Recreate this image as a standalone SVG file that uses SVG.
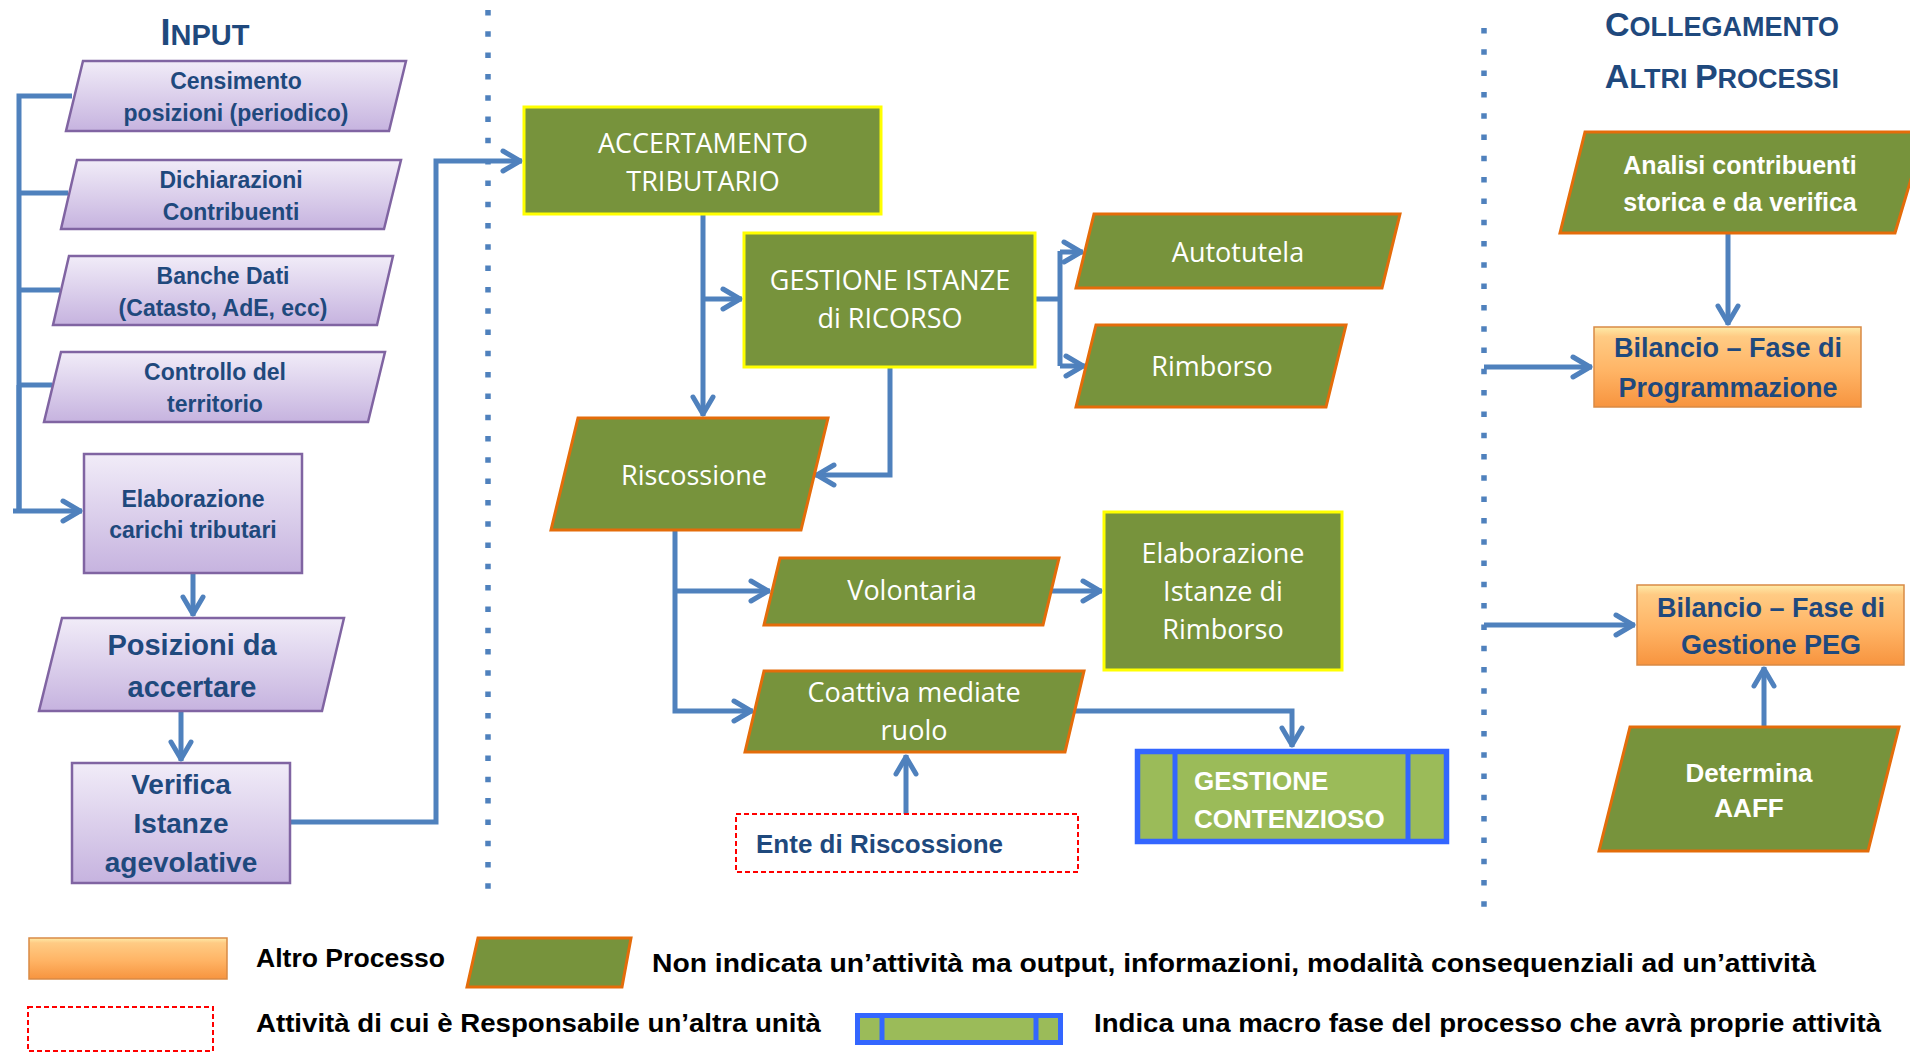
<svg xmlns="http://www.w3.org/2000/svg" width="1910" height="1052" viewBox="0 0 1910 1052">
<defs>
<linearGradient id="gPurple" x1="0" y1="0" x2="0" y2="1">
<stop offset="0" stop-color="#F1ECF8"/><stop offset="1" stop-color="#C6B3DF"/>
</linearGradient>
<linearGradient id="gOrange" x1="0" y1="0" x2="0" y2="1">
<stop offset="0" stop-color="#FEEBA8"/><stop offset="0.12" stop-color="#FFCB84"/><stop offset="0.55" stop-color="#FFB465"/><stop offset="1" stop-color="#F7943F"/>
</linearGradient>
<marker id="arr" markerUnits="userSpaceOnUse" viewBox="-26 -14 30 28" refX="0" refY="0" markerWidth="30" markerHeight="28" orient="auto">
<path d="M-19,-10 L-2,0 L-19,10" fill="none" stroke="#4F81BD" stroke-width="5" stroke-linecap="round" stroke-linejoin="round"/>
</marker>
</defs>
<style>
.conn{fill:none;stroke:#4F81BD;stroke-width:5;stroke-linejoin:miter}
.dots{fill:none;stroke:#4F81BD;stroke-width:5.5;stroke-dasharray:5.5 15.8}
.purp{fill:url(#gPurple);stroke:#8064A2;stroke-width:2.5}
.grnP{fill:#77933C;stroke:#E46C0A;stroke-width:3}
.grnR{fill:#77933C;stroke:#FFFF00;stroke-width:3}
.orng{fill:url(#gOrange);stroke:#D98A45;stroke-width:1.5}
.tb{font-family:"Liberation Sans",Arial,sans-serif;font-weight:bold;fill:#1F497D;text-anchor:middle}
.tw{font-family:"Open Sans","Liberation Sans",sans-serif;fill:#FFFFFF;text-anchor:middle;font-size:27px}
.twb{font-family:"Liberation Sans",Arial,sans-serif;font-weight:bold;fill:#FFFFFF;text-anchor:middle}
.title{font-family:"Liberation Sans",Arial,sans-serif;font-weight:bold;fill:#1F497D;text-anchor:middle}
.leg{font-family:"Liberation Sans",Arial,sans-serif;font-weight:bold;fill:#000000;font-size:25px}
</style>
<rect width="1910" height="1052" fill="#FFFFFF"/>

<!-- titles -->
<text class="title" x="205" y="45"><tspan font-size="36">I</tspan><tspan font-size="29">NPUT</tspan></text>
<text class="title" x="1722" y="36"><tspan font-size="34">C</tspan><tspan font-size="27">OLLEGAMENTO</tspan></text>
<text class="title" x="1722" y="88"><tspan font-size="34">A</tspan><tspan font-size="27">LTRI </tspan><tspan font-size="34">P</tspan><tspan font-size="27">ROCESSI</tspan></text>

<!-- separators -->
<line class="dots" x1="488" y1="10" x2="488" y2="892"/>
<line class="dots" x1="1484" y1="28" x2="1484" y2="908"/>

<!-- connectors -->
<g id="connectors">
<path class="conn" d="M72,96 H19 V512"/>
<path class="conn" d="M68,193 H19"/>
<path class="conn" d="M60,290 H19"/>
<path class="conn" d="M52,385 H19"/>
<path class="conn" d="M19,385 V511" stroke-width="13"/>
<path class="conn" d="M13,511 H82" stroke-width="11" marker-end="url(#arr)"/>
<path class="conn" d="M193,573 V616" marker-end="url(#arr)"/>
<path class="conn" d="M181,711 V761" marker-end="url(#arr)"/>
<path class="conn" d="M290,822 H436 V161 H522" marker-end="url(#arr)"/>
<path class="conn" d="M703,214 V416" marker-end="url(#arr)"/>
<path class="conn" d="M703,299 H742" marker-end="url(#arr)"/>
<path class="conn" d="M1035,299 H1060"/>
<path class="conn" d="M1060,251 V366"/>
<path class="conn" d="M1060,252 H1083" marker-end="url(#arr)"/>
<path class="conn" d="M1060,366 H1085" marker-end="url(#arr)"/>
<path class="conn" d="M890,367 V475 H815" marker-end="url(#arr)"/>
<path class="conn" d="M675,530 V711 H753" marker-end="url(#arr)"/>
<path class="conn" d="M675,591 H770" marker-end="url(#arr)"/>
<path class="conn" d="M1051,591 H1102" marker-end="url(#arr)"/>
<path class="conn" d="M1073,711 H1292 V747" marker-end="url(#arr)"/>
<path class="conn" d="M906,814 V755" marker-end="url(#arr)"/>
<path class="conn" d="M1728,233 V325" marker-end="url(#arr)"/>
<path class="conn" d="M1484,367 H1592" marker-end="url(#arr)"/>
<path class="conn" d="M1484,625 H1635" marker-end="url(#arr)"/>
<path class="conn" d="M1764,727 V667" marker-end="url(#arr)"/>
</g>

<!-- input nodes -->
<g id="censimento">
<polygon class="purp" points="83,61 406,61 389,131 66,131"/>
<text class="tb" font-size="23" x="236" y="89">Censimento</text>
<text class="tb" font-size="23" x="236" y="121">posizioni (periodico)</text>
</g>
<g id="dichiarazioni">
<polygon class="purp" points="77,160 401,160 384,229 61,229"/>
<text class="tb" font-size="23" x="231" y="188">Dichiarazioni</text>
<text class="tb" font-size="23" x="231" y="220">Contribuenti</text>
</g>
<g id="banche">
<polygon class="purp" points="69,256 393,256 377,325 53,325"/>
<text class="tb" font-size="23" x="223" y="284">Banche Dati</text>
<text class="tb" font-size="23" x="223" y="316">(Catasto, AdE, ecc)</text>
</g>
<g id="controllo">
<polygon class="purp" points="61,352 385,352 368,422 44,422"/>
<text class="tb" font-size="23" x="215" y="380">Controllo del</text>
<text class="tb" font-size="23" x="215" y="412">territorio</text>
</g>
<g id="elaborazione-carichi">
<rect class="purp" x="84" y="454" width="218" height="119"/>
<text class="tb" font-size="23" x="193" y="507">Elaborazione</text>
<text class="tb" font-size="23" x="193" y="538">carichi tributari</text>
</g>
<g id="posizioni">
<polygon class="purp" points="62,618 344,618 322,711 39,711"/>
<text class="tb" font-size="29" x="192" y="655">Posizioni da</text>
<text class="tb" font-size="29" x="192" y="697">accertare</text>
</g>
<g id="verifica">
<rect class="purp" x="72" y="763" width="218" height="120"/>
<text class="tb" font-size="28" x="181" y="794">Verifica</text>
<text class="tb" font-size="28" x="181" y="833">Istanze</text>
<text class="tb" font-size="28" x="181" y="872">agevolative</text>
</g>

<!-- central nodes -->
<g id="accertamento">
<rect class="grnR" x="524" y="107" width="357" height="107"/>
<text class="tw" x="703" y="153">ACCERTAMENTO</text>
<text class="tw" x="703" y="191">TRIBUTARIO</text>
</g>
<g id="gestione-istanze">
<rect class="grnR" x="744" y="233" width="291" height="134"/>
<text class="tw" x="890" y="290">GESTIONE ISTANZE</text>
<text class="tw" x="890" y="328">di RICORSO</text>
</g>
<g id="autotutela">
<polygon class="grnP" points="1094,214 1400,214 1382,288 1076,288"/>
<text class="tw" x="1238" y="262">Autotutela</text>
</g>
<g id="rimborso">
<polygon class="grnP" points="1096,325 1346,325 1326,407 1076,407"/>
<text class="tw" x="1212" y="376">Rimborso</text>
</g>
<g id="riscossione">
<polygon class="grnP" points="578,418 828,418 801,530 551,530"/>
<text class="tw" x="694" y="485">Riscossione</text>
</g>
<g id="volontaria">
<polygon class="grnP" points="780,558 1059,558 1043,625 764,625"/>
<text class="tw" x="912" y="600">Volontaria</text>
</g>
<g id="elaborazione-istanze">
<rect class="grnR" x="1104" y="512" width="238" height="158"/>
<text class="tw" x="1223" y="563">Elaborazione</text>
<text class="tw" x="1223" y="601">Istanze di</text>
<text class="tw" x="1223" y="639">Rimborso</text>
</g>
<g id="coattiva">
<polygon class="grnP" points="764,671 1084,671 1065,752 745,752"/>
<text class="tw" x="914" y="702">Coattiva mediate</text>
<text class="tw" x="914" y="740">ruolo</text>
</g>
<g id="ente">
<rect x="736" y="814" width="342" height="58" fill="#FFFFFF" stroke="#FF0000" stroke-width="2" stroke-dasharray="5 3"/>
<text class="tb" font-size="26" x="756" y="853" text-anchor="start" style="text-anchor:start">Ente di Riscossione</text>
</g>
<g id="contenzioso">
<rect x="1137.5" y="751.5" width="309" height="90" fill="#9BBB59" stroke="#3366FF" stroke-width="5.5"/>
<line x1="1175" y1="751" x2="1175" y2="842" stroke="#3366FF" stroke-width="5"/>
<line x1="1408" y1="751" x2="1408" y2="842" stroke="#3366FF" stroke-width="5"/>
<text class="twb" font-size="26" x="1194" y="790" style="text-anchor:start">GESTIONE</text>
<text class="twb" font-size="26" x="1194" y="828" style="text-anchor:start">CONTENZIOSO</text>
</g>

<!-- right nodes -->
<g id="analisi">
<polygon class="grnP" points="1585,132 1925,132 1895,233 1560,233"/>
<text class="twb" font-size="25" x="1740" y="174">Analisi contribuenti</text>
<text class="twb" font-size="25" x="1740" y="211">storica e da verifica</text>
</g>
<g id="bilancio-programmazione">
<rect class="orng" x="1594" y="327" width="267" height="80"/>
<text class="tb" font-size="27" x="1728" y="357">Bilancio – Fase di</text>
<text class="tb" font-size="27" x="1728" y="397">Programmazione</text>
</g>
<g id="bilancio-peg">
<rect class="orng" x="1637" y="585" width="267" height="80"/>
<text class="tb" font-size="27" x="1771" y="617">Bilancio – Fase di</text>
<text class="tb" font-size="27" x="1771" y="654">Gestione PEG</text>
</g>
<g id="determina">
<polygon class="grnP" points="1630,727 1899,727 1868,851 1599,851"/>
<text class="twb" font-size="26" x="1749" y="782">Determina</text>
<text class="twb" font-size="26" x="1749" y="817">AAFF</text>
</g>

<!-- legend -->
<g id="legend">
<rect class="orng" x="29" y="938" width="198" height="41"/>
<text class="leg" x="256" y="967" textLength="189" lengthAdjust="spacingAndGlyphs">Altro Processo</text>
<polygon class="grnP" points="478,938 631,938 622,987 467,987"/>
<text class="leg" x="652" y="972" textLength="1164" lengthAdjust="spacingAndGlyphs">Non indicata un’attività ma output, informazioni, modalità consequenziali ad un’attività</text>
<rect x="28" y="1007" width="185" height="44" fill="#FFFFFF" stroke="#FF0000" stroke-width="2" stroke-dasharray="5 3"/>
<text class="leg" x="256" y="1032" textLength="565" lengthAdjust="spacingAndGlyphs">Attività di cui è Responsabile un’altra unità</text>
<rect x="857.5" y="1015.5" width="203" height="27" fill="#9BBB59" stroke="#3366FF" stroke-width="5"/>
<line x1="882" y1="1014" x2="882" y2="1044" stroke="#3366FF" stroke-width="5"/>
<line x1="1036" y1="1014" x2="1036" y2="1044" stroke="#3366FF" stroke-width="5"/>
<text class="leg" x="1094" y="1032" textLength="787" lengthAdjust="spacingAndGlyphs">Indica una macro fase del processo che avrà proprie attività</text>
</g>
</svg>
